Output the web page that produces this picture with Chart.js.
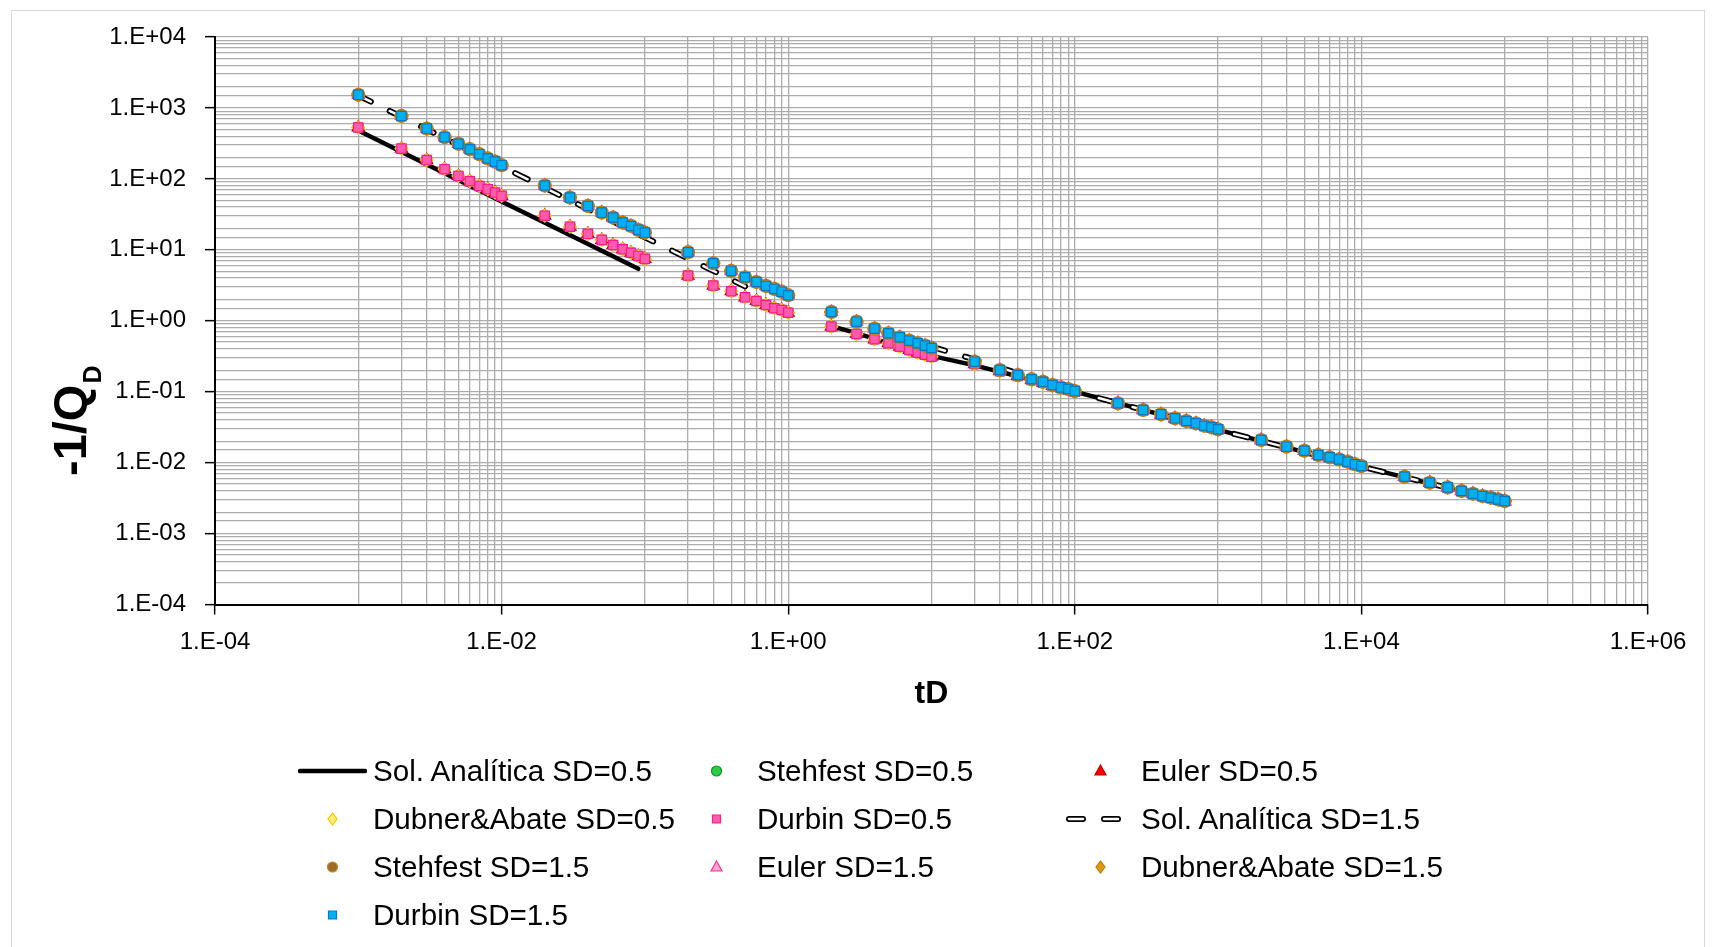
<!DOCTYPE html>
<html>
<head>
<meta charset="utf-8">
<script src="https://cdn.jsdelivr.net/npm/chart.js@4.4.1/dist/chart.umd.min.js"></script>
<style>
  html, body { margin: 0; padding: 0; background: #fff; }
  body { width: 1717px; height: 947px; position: relative; overflow: hidden; font-family: "Liberation Sans", Arial, sans-serif; }
  #frame { position: absolute; left: 11px; top: 10px; width: 1694px; height: 960px; border: 1px solid #d9d9d9; box-sizing: border-box; }
  #wrap { position: absolute; left: 0; top: 0; width: 1717px; height: 947px; }
  #legend { position: absolute; left: 298px; top: 747px; display: grid; grid-template-columns: repeat(3, 384px); grid-auto-rows: 48px; }
  .item { display: flex; align-items: center; font-size: 29.6px; color: #000; white-space: nowrap; }
  .item canvas { width: 69px; height: 24px; margin-right: 6px; flex: none; }
</style>
</head>
<body>
<div id="frame"></div>
<div id="wrap"><canvas id="chart"></canvas></div>
<div id="legend"></div>
<script>
// time values (tD) shared by every numerical method
const tD = [
    0.001, 0.002, 0.003, 0.004, 0.005, 0.006, 0.007, 0.008, 0.009,
    0.01, 0.02, 0.03, 0.04, 0.05, 0.06, 0.07, 0.08, 0.09,
    0.1, 0.2, 0.3, 0.4, 0.5, 0.6, 0.7, 0.8, 0.9,
    1, 2, 3, 4, 5, 6, 7, 8, 9,
    10, 20, 30, 40, 50, 60, 70, 80, 90,
    100, 200, 300, 400, 500, 600, 700, 800, 900,
    1000, 2000, 3000, 4000, 5000, 6000, 7000, 8000, 9000,
    10000, 20000, 30000, 40000, 50000, 60000, 70000, 80000, 90000,
    100000
];

// -1/QD, SD = 0.5 (all four inversion methods overlap)
const qSD05 = [
    530, 267, 184, 137, 110, 92.7, 79.6, 71.6, 64.1,
    57.6, 30.3, 21.2, 16.8, 13.8, 11.7, 10.2, 9.1, 8.2,
    7.45, 4.33, 3.13, 2.61, 2.14, 1.90, 1.67, 1.50, 1.42,
    1.30, 0.826, 0.652, 0.548, 0.482, 0.431, 0.388, 0.355, 0.333,
    0.312, 0.245, 0.195, 0.167, 0.146, 0.134, 0.121, 0.113, 0.107,
    0.100, 0.0680, 0.0548, 0.0476, 0.0418, 0.0383, 0.0355, 0.0329, 0.0313,
    0.0293, 0.0207, 0.0167, 0.0146, 0.0127, 0.0118, 0.0110, 0.0102, 0.0094,
    0.0089, 0.0063, 0.0052, 0.00446, 0.00396, 0.00362, 0.00336, 0.00318, 0.00301,
    0.00285
];

// -1/QD, SD = 1.5
const qSD15 = [
    1530, 771, 512, 387, 312, 262, 223, 194, 175,
    156, 80.5, 54.5, 41.6, 33.5, 28.5, 24.2, 21.7, 19.1,
    17.5, 9.25, 6.47, 5.04, 4.1, 3.52, 3.1, 2.81, 2.57,
    2.29, 1.33, 0.97, 0.774, 0.667, 0.585, 0.524, 0.482, 0.446,
    0.413, 0.265, 0.202, 0.172, 0.150, 0.138, 0.124, 0.115, 0.109,
    0.102, 0.0686, 0.0552, 0.048, 0.0421, 0.0386, 0.0358, 0.0331, 0.0315,
    0.0295, 0.0208, 0.0168, 0.0147, 0.0128, 0.0119, 0.0111, 0.0103, 0.0095,
    0.00895, 0.00632, 0.0052, 0.00448, 0.00398, 0.00364, 0.00338, 0.0032, 0.00303,
    0.00287
];

// analytical solutions (null = no value, line breaks there)
const tAnalytic05 = [0.001, 0.01, 0.09, 1, 2, 3, 5, 10, 20, 50, 100, 1000, 10000, 100000];
const qAnalytic05 = [480, 48, 5.4, null, 0.84, 0.67, 0.48, 0.32, 0.235, 0.147, 0.1, 0.029, 0.0088, 0.0028];
const tAnalytic15 = [0.001, 0.01, 0.1, 0.5, 1, 10, 20, 100, 1000, 10000, 100000];
const qAnalytic15 = [1500, 150, 15, 3.05, null, 0.43, 0.285, 0.1, 0.029, 0.0088, 0.0028];

const xRange = [1e-4, 1e6];
const yRange = [1e-4, 1e4];

const FONT = '"Liberation Sans", Arial, sans-serif';

const toXY = (xs, ys) => xs.map((x, i) => ({x: x, y: ys[i]}));
const isDecade = v => Math.abs(Math.log10(v) - Math.round(Math.log10(v))) < 1e-6;
const isEvenDecade = v => isDecade(v) && Math.round(Math.log10(v)) % 2 === 0;
const decadeLabel = v => {
    const p = Math.round(Math.log10(v));
    return '1.E' + (p < 0 ? '-' : '+') + String(Math.abs(p)).padStart(2, '0');
};

const lineSet = (label, xs, ys, color, width, dash, legend) => ({
    label: label,
    data: toXY(xs, ys),
    showLine: true,
    borderColor: color,
    backgroundColor: color,
    borderWidth: width,
    borderDash: dash,
    borderCapStyle: 'round',
    borderJoinStyle: 'round',
    pointRadius: 0,
    spanGaps: false,
    tension: 0,
    legend: legend
});

const markerSet = (label, ys, style, radius, fill, stroke) => ({
    label: label,
    data: toXY(tD, ys),
    showLine: false,
    pointStyle: style,
    pointRadius: radius,
    pointBackgroundColor: fill,
    pointBorderColor: stroke,
    pointBorderWidth: 1.2,
    backgroundColor: fill,
    borderColor: stroke,
    legend: true
});

const datasets = [
    lineSet('Sol. Analítica SD=0.5', tAnalytic05, qAnalytic05, '#000000', 4.5, [], true),
    markerSet('Stehfest SD=0.5', qSD05, 'circle', 5.5, '#2ecc40', '#009a2a'),
    markerSet('Euler SD=0.5', qSD05, 'triangle', 7, '#ff0000', '#c00000'),
    markerSet('Dubner&Abate SD=0.5', qSD05, 'rectRot', 6.5, '#fff176', '#ffc000'),
    markerSet('Durbin SD=0.5', qSD05, 'rect', 6.6, '#ff5cae', '#ff1a8c'),
    lineSet('Sol. Analítica SD=1.5', tAnalytic15, qAnalytic15, '#000000', 6, [14, 21], true),
    lineSet('', tAnalytic15, qAnalytic15, '#ffffff', 2.5, [14, 21], false),
    markerSet('Stehfest SD=1.5', qSD15, 'circle', 6.5, '#9c6a2a', '#c08a1c'),
    markerSet('Euler SD=1.5', qSD15, 'triangle', 7, '#ffa6d2', '#ff3399'),
    markerSet('Dubner&Abate SD=1.5', qSD15, 'rectRot', 6.5, '#e09a10', '#c07a00'),
    markerSet('Durbin SD=1.5', qSD15, 'rect', 6.6, '#00b0f0', '#0a78c0')
];
// first series at the bottom, like the spreadsheet
datasets.forEach((ds, i) => { ds.order = datasets.length - i; });

const yTitle = {
    id: 'yTitle',
    afterDraw(chart) {
        const ctx = chart.ctx;
        ctx.save();
        ctx.translate(86, 476);
        ctx.rotate(-Math.PI / 2);
        ctx.fillStyle = '#000';
        ctx.textAlign = 'left';
        ctx.textBaseline = 'alphabetic';
        ctx.font = 'bold 47px ' + FONT;
        ctx.fillText('-1/Q', 0, 0);
        const w = ctx.measureText('-1/Q').width;
        ctx.font = 'bold 25px ' + FONT;
        ctx.fillText('D', w + 1, 15);
        ctx.restore();
    }
};

// x axis: labels every two decades, minor lines only in the upper decade of each pair
function xTicks(scale) {
    const ticks = [];
    for (let p = -4; p < 6; p += 2) {
        ticks.push({value: Math.pow(10, p), major: true});
        for (let m = 1; m <= 9; m++) ticks.push({value: m * Math.pow(10, p + 1), major: false});
    }
    ticks.push({value: 1e6, major: true});
    scale.ticks = ticks;
}

const gridStyle = {
    color: '#acacac',
    lineWidth: 1.3,
    drawTicks: true,
    tickLength: 10,
    tickWidth: 1.5
};

const chart = new Chart(document.getElementById('chart'), {
    type: 'scatter',
    data: {datasets: datasets},
    options: {
        responsive: true,
        maintainAspectRatio: false,
        animation: false,
        layout: {padding: {left: 0, top: 37, right: 69, bottom: 229.5}},
        plugins: {
            legend: {display: false},
            tooltip: {enabled: false}
        },
        scales: {
            x: {
                type: 'logarithmic',
                min: xRange[0],
                max: xRange[1],
                grid: {...gridStyle, tickColor: ctx => (ctx.tick && isEvenDecade(ctx.tick.value)) ? '#000' : 'rgba(0,0,0,0)'},
                border: {color: '#000', width: 2},
                title: {display: true, text: 'tD', color: '#000', font: {family: FONT, size: 32, weight: 'bold'}, padding: {top: 4, bottom: 4}},
                ticks: {
                    autoSkip: false, maxRotation: 0, minRotation: 0, padding: 13,
                    color: '#000', font: {family: FONT, size: 24},
                    callback: v => isEvenDecade(v) ? decadeLabel(v) : ''
                },
                afterBuildTicks: xTicks,
                afterFit: s => { s.height = 113; }
            },
            y: {
                type: 'logarithmic',
                min: yRange[0],
                max: yRange[1],
                grid: {...gridStyle, tickColor: ctx => (ctx.tick && isDecade(ctx.tick.value)) ? '#000' : 'rgba(0,0,0,0)'},
                border: {color: '#000', width: 2},
                ticks: {
                    autoSkip: false, padding: 19,
                    color: '#000', font: {family: FONT, size: 24},
                    callback: v => isDecade(v) ? decadeLabel(v) : ''
                },
                afterFit: s => { s.width = 215; }
            }
        }
    },
    plugins: [yTitle]
});

// legend in three columns, built from the datasets
function drawSymbol(canvas, ds) {
    canvas.width = 69;
    canvas.height = 24;
    const g = canvas.getContext('2d');
    const cx = 34.5, cy = 12;
    if (ds.showLine) {
        g.lineCap = 'round';
        if (ds.borderDash.length) {
            g.setLineDash([14, 21]);
            [['#000', 6], ['#fff', 2.5]].forEach(([c, w]) => {
                g.strokeStyle = c; g.lineWidth = w;
                g.beginPath(); g.moveTo(3, cy); g.lineTo(57, cy); g.stroke();
            });
        } else {
            g.strokeStyle = '#000'; g.lineWidth = 4.5;
            g.beginPath(); g.moveTo(2, cy); g.lineTo(67, cy); g.stroke();
        }
        return;
    }
    g.fillStyle = ds.pointBackgroundColor;
    g.strokeStyle = ds.pointBorderColor;
    g.lineWidth = 1.2;
    g.beginPath();
    if (ds.pointStyle === 'circle') {
        g.arc(cx, cy, 5, 0, Math.PI * 2);
    } else if (ds.pointStyle === 'triangle') {
        g.moveTo(cx, cy - 6); g.lineTo(cx + 5.5, cy + 4); g.lineTo(cx - 5.5, cy + 4); g.closePath();
    } else if (ds.pointStyle === 'rectRot') {
        g.moveTo(cx, cy - 6); g.lineTo(cx + 4.5, cy); g.lineTo(cx, cy + 6); g.lineTo(cx - 4.5, cy); g.closePath();
    } else {
        g.rect(cx - 4, cy - 4, 8, 8);
    }
    g.fill();
    g.stroke();
}

const legendBox = document.getElementById('legend');
chart.data.datasets.filter(ds => ds.legend).forEach(ds => {
    const item = document.createElement('div');
    item.className = 'item';
    const c = document.createElement('canvas');
    drawSymbol(c, ds);
    const span = document.createElement('span');
    span.textContent = ds.label;
    item.appendChild(c);
    item.appendChild(span);
    legendBox.appendChild(item);
});
</script>
</body>
</html>
